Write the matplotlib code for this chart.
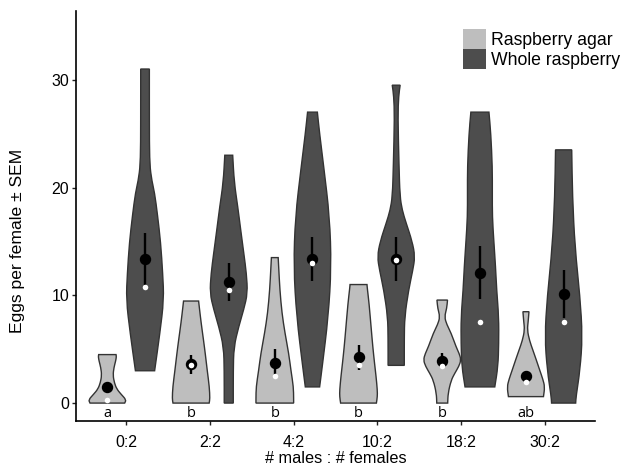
import numpy as np
import matplotlib.pyplot as plt
from matplotlib.path import Path
from matplotlib.patches import PathPatch, Patch

plt.rcParams['font.family'] = ['Liberation Sans', 'DejaVu Sans']

# groups on the x axis
groups = ['0:2', '2:2', '4:2', '10:2', '18:2', '30:2']
letters = ['a', 'b', 'b', 'b', 'b', 'ab']

# mean, SEM and median (eggs per female)
agar_mean = [1.5, 3.6, 3.75, 4.25, 3.95, 2.55]
agar_sem = [0.35, 0.9, 1.25, 1.15, 0.7, 0.45]
agar_median = [0.25, 3.5, 2.5, 3.5, 3.45, 1.95]
fruit_mean = [13.4, 11.25, 13.4, 13.4, 12.1, 10.1]
fruit_sem = [2.4, 1.75, 2.05, 2.05, 2.45, 2.25]
fruit_median = [10.8, 10.5, 13.0, 13.3, 7.5, 7.5]

# violin outlines: y levels and relative density (max = 1)
agar_y = [
    [0, 0.3, 0.8, 1.3, 1.9, 2.6, 3.3, 3.9, 4.3, 4.5],
    [0, 0.4, 1.5, 3.0, 4.5, 5.85, 7.5, 9.0, 9.47],
    [0, 0.4, 1.5, 3.0, 4.6, 6.5, 8.35, 10.5, 12.5, 13.5],
    [0, 0.6, 1.2, 2.5, 3.7, 5.2, 6.8, 9.26, 10.6, 11.0],
    [0, 0.9, 2.1, 2.75, 3.4, 4.0, 4.6, 5.2, 6.5, 7.3, 8.0, 8.8, 9.56],
    [0.6, 1.5, 2.2, 3.06, 4.0, 4.9, 5.8, 6.78, 7.6, 8.48],
]
agar_dens = [
    [0.92, 1.0, 0.74, 0.5, 0.37, 0.3, 0.35, 0.44, 0.48, 0.46],
    [0.96, 1.0, 0.97, 0.86, 0.76, 0.66, 0.53, 0.43, 0.4],
    [1.0, 1.0, 0.99, 0.86, 0.74, 0.54, 0.38, 0.27, 0.21, 0.18],
    [0.95, 1.0, 1.0, 0.93, 0.85, 0.76, 0.68, 0.56, 0.47, 0.45],
    [0.29, 0.31, 0.47, 0.66, 0.88, 1.0, 0.9, 0.74, 0.47, 0.24, 0.12, 0.24, 0.28],
    [0.93, 1.0, 0.9, 0.73, 0.55, 0.37, 0.19, 0.07, 0.12, 0.16],
]
fruit_y = [
    [3.0, 6.5, 9.6, 12.0, 14.9, 17.5, 19.5, 21.0, 22.6, 26.0, 31.0],
    [0, 3.0, 5.2, 7.1, 8.7, 10.2, 12.0, 13.9, 16.0, 18.2, 20.5, 23.0],
    [1.5, 3.4, 8.0, 12.65, 17.3, 21.9, 25.0, 27.0],
    [3.5, 6.0, 8.0, 10.5, 12.3, 13.6, 15.0, 16.7, 17.9, 19.2, 22.0, 26.6, 28.5, 29.5],
    [1.5, 3.4, 5.5, 8.0, 10.5, 12.65, 15.0, 17.3, 19.5, 21.9, 25.0, 27.0],
    [0, 0.6, 3.06, 6.16, 9.87, 14.5, 19.2, 23.5],
]
fruit_dens = [
    [0.51, 0.79, 1.0, 0.94, 0.83, 0.66, 0.51, 0.32, 0.24, 0.23, 0.23],
    [0.24, 0.24, 0.27, 0.53, 0.8, 1.0, 0.94, 0.8, 0.64, 0.48, 0.29, 0.21],
    [0.38, 0.52, 0.84, 1.0, 0.91, 0.6, 0.38, 0.26],
    [0.43, 0.43, 0.45, 0.66, 0.88, 1.0, 0.85, 0.53, 0.32, 0.2, 0.15, 0.09, 0.13, 0.21],
    [0.79, 0.96, 1.0, 1.0, 0.89, 0.83, 0.74, 0.66, 0.66, 0.66, 0.58, 0.48],
    [0.64, 0.66, 0.87, 1.0, 0.87, 0.6, 0.47, 0.43],
]

LIGHT = '#bebebe'
DARK = '#4d4d4d'
DODGE = 0.225
HALF_W = 0.225


def smooth_side(pts):
    """quadratic smoothing through the midpoints of an outline side"""
    verts = [pts[0]]
    codes = [Path.LINETO]
    if len(pts) > 2:
        mid = lambda a, b: ((a[0] + b[0]) / 2, (a[1] + b[1]) / 2)
        verts.append(mid(pts[0], pts[1]))
        codes.append(Path.LINETO)
        for i in range(1, len(pts) - 1):
            verts += [pts[i], mid(pts[i], pts[i + 1])]
            codes += [Path.CURVE3, Path.CURVE3]
    verts.append(pts[-1])
    codes.append(Path.LINETO)
    return verts, codes


def draw_violin(ax, cx, ys, dens, color):
    right = [(cx + d * HALF_W, y) for y, d in zip(ys, dens)]
    left = [(cx - d * HALF_W, y) for y, d in zip(ys, dens)][::-1]
    v1, c1 = smooth_side(right)
    v2, c2 = smooth_side(left)
    c1[0] = Path.MOVETO
    verts = v1 + v2 + [right[0]]
    codes = c1 + c2 + [Path.CLOSEPOLY]
    ax.add_patch(PathPatch(Path(verts, codes), facecolor=color,
                           edgecolor='#333333', linewidth=1.0, zorder=2))


fig, ax = plt.subplots(figsize=(6.33, 4.71), dpi=100)
fig.subplots_adjust(left=0.120, right=0.940, bottom=0.106, top=0.977)

x = np.arange(len(groups))
for i in range(len(groups)):
    draw_violin(ax, x[i] - DODGE, agar_y[i], agar_dens[i], LIGHT)
    draw_violin(ax, x[i] + DODGE, fruit_y[i], fruit_dens[i], DARK)

for pos, m, s, md in [(x - DODGE, agar_mean, agar_sem, agar_median),
                      (x + DODGE, fruit_mean, fruit_sem, fruit_median)]:
    ax.errorbar(pos, m, yerr=s, fmt='o', color='black', ms=7.2,
                elinewidth=1.7, capsize=0, zorder=3)
    ax.plot(pos, md, 'o', color='white', ms=4.0, mec='none', zorder=4)

# letters from the post-hoc test
for i, lab in enumerate(letters):
    ax.text(x[i] - DODGE, -0.95, lab, ha='center', va='center',
            fontsize=10.5, family=['Open Sans', 'DejaVu Sans'])

ax.set_xlim(-0.6, 5.6)
ax.set_ylim(-1.67, 36.4)
ax.set_xticks(x)
ax.set_xticklabels(groups)
ax.set_yticks([0, 10, 20, 30])
ax.tick_params(labelsize=11.4, length=3, width=1, colors='#222222',
               labelcolor='black')
ax.tick_params(axis='x', pad=7)
ax.tick_params(axis='y', pad=2)
for side in ['top', 'right']:
    ax.spines[side].set_visible(False)
for side in ['left', 'bottom']:
    ax.spines[side].set_linewidth(1.2)

ax.set_xlabel('# males : # females', fontsize=11.7, labelpad=1)
ax.set_ylabel('Eggs per female \u00b1 SEM', fontsize=12.6)
ax.yaxis.set_label_coords(-0.098, 0.44)

handles = [Patch(facecolor=LIGHT, edgecolor='none', label='Raspberry agar'),
           Patch(facecolor=DARK, edgecolor='none', label='Whole raspberry')]
ax.legend(handles=handles, loc='upper left', bbox_to_anchor=(0.746, 0.956),
          frameon=False, fontsize=12.7, handlelength=1.3, handleheight=1.36,
          labelspacing=0, handletextpad=0.3, borderpad=0, borderaxespad=0)

fig.savefig('out.png', dpi=100)
